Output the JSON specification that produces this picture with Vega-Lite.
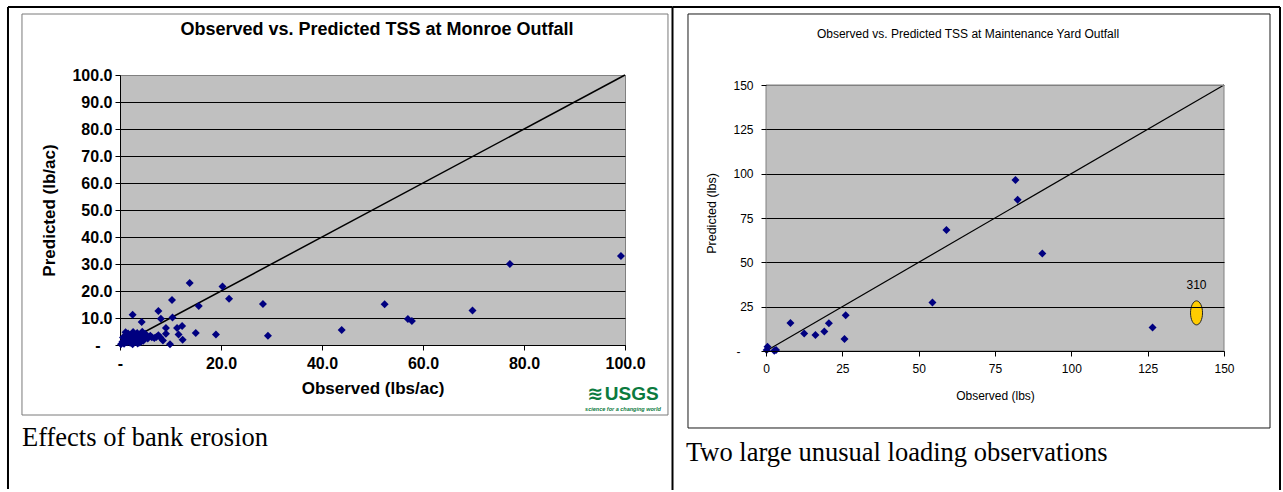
{
  "$schema": "https://vega.github.io/schema/vega-lite/v6.json",
  "background": "white",
  "padding": {"left": 6, "top": 5, "right": 0, "bottom": 0},
  "spacing": -4,
  "config": {
    "font": "Liberation Sans",
    "view": {"stroke": null},
    "axis": {"labelColor": "#000000", "titleColor": "#000000", "tickColor": "#000000", "domainColor": "#000000", "gridOpacity": 1, "labelFlush": false, "labelOverlap": false}
  },
  "datasets": {
    "monroe": [
      {"Observed": 99.2, "Predicted": 33.0}, {"Observed": 77.2, "Predicted": 30.0}, {"Observed": 69.8, "Predicted": 12.8},
      {"Observed": 52.4, "Predicted": 15.1}, {"Observed": 57.0, "Predicted": 9.6}, {"Observed": 57.8, "Predicted": 8.9},
      {"Observed": 43.9, "Predicted": 5.6}, {"Observed": 29.3, "Predicted": 3.4}, {"Observed": 28.3, "Predicted": 15.2},
      {"Observed": 21.6, "Predicted": 17.1}, {"Observed": 20.3, "Predicted": 21.7}, {"Observed": 13.8, "Predicted": 23.0},
      {"Observed": 15.6, "Predicted": 14.4}, {"Observed": 19.0, "Predicted": 3.9}, {"Observed": 15.0, "Predicted": 4.4},
      {"Observed": 10.3, "Predicted": 16.7}, {"Observed": 7.6, "Predicted": 12.6}, {"Observed": 8.1, "Predicted": 9.7},
      {"Observed": 10.4, "Predicted": 10.2}, {"Observed": 2.5, "Predicted": 11.2}, {"Observed": 4.3, "Predicted": 8.5},
      {"Observed": 9.1, "Predicted": 6.3}, {"Observed": 11.3, "Predicted": 6.3}, {"Observed": 12.3, "Predicted": 7.0},
      {"Observed": 11.6, "Predicted": 3.9}, {"Observed": 12.4, "Predicted": 1.9}, {"Observed": 9.9, "Predicted": 0.3},
      {"Observed": 8.5, "Predicted": 1.7}, {"Observed": 9.1, "Predicted": 4.2}, {"Observed": 7.6, "Predicted": 3.6},
      {"Observed": 6.3, "Predicted": 2.9}, {"Observed": 5.2, "Predicted": 3.1},
      {"Observed": 0.2, "Predicted": 0.3}, {"Observed": 0.5, "Predicted": 1.2}, {"Observed": 0.8, "Predicted": 0.5},
      {"Observed": 1.0, "Predicted": 2.2}, {"Observed": 1.2, "Predicted": 3.6}, {"Observed": 1.4, "Predicted": 1.0},
      {"Observed": 1.6, "Predicted": 4.3}, {"Observed": 1.8, "Predicted": 2.8}, {"Observed": 2.0, "Predicted": 0.8},
      {"Observed": 2.2, "Predicted": 1.9}, {"Observed": 2.4, "Predicted": 3.9}, {"Observed": 2.6, "Predicted": 4.8},
      {"Observed": 2.8, "Predicted": 2.4}, {"Observed": 3.0, "Predicted": 1.3}, {"Observed": 3.2, "Predicted": 3.2},
      {"Observed": 3.4, "Predicted": 4.4}, {"Observed": 3.6, "Predicted": 2.0}, {"Observed": 3.8, "Predicted": 0.9},
      {"Observed": 4.0, "Predicted": 3.6}, {"Observed": 4.2, "Predicted": 2.6}, {"Observed": 4.4, "Predicted": 4.9},
      {"Observed": 4.6, "Predicted": 1.6}, {"Observed": 4.8, "Predicted": 3.0}, {"Observed": 5.0, "Predicted": 4.2},
      {"Observed": 5.5, "Predicted": 2.4}, {"Observed": 6.0, "Predicted": 3.4}, {"Observed": 6.8, "Predicted": 2.6},
      {"Observed": 0.6, "Predicted": 2.8}, {"Observed": 1.1, "Predicted": 4.7}, {"Observed": 2.5, "Predicted": 0.3},
      {"Observed": 3.5, "Predicted": 0.6}, {"Observed": 4.1, "Predicted": 1.1}, {"Observed": 7.2, "Predicted": 3.0},
      {"Observed": 8.0, "Predicted": 2.8}
    ],
    "maintenance": [
      {"Observed": 0.5, "Predicted": 2.4}, {"Observed": 0.2, "Predicted": 0.6}, {"Observed": 3.3, "Predicted": 0.6},
      {"Observed": 2.7, "Predicted": 0.2}, {"Observed": 8.0, "Predicted": 15.8}, {"Observed": 12.5, "Predicted": 9.8},
      {"Observed": 16.2, "Predicted": 9.0}, {"Observed": 19.1, "Predicted": 11.0}, {"Observed": 20.6, "Predicted": 15.6},
      {"Observed": 26.1, "Predicted": 20.2}, {"Observed": 25.7, "Predicted": 6.8}, {"Observed": 54.5, "Predicted": 27.3},
      {"Observed": 59.1, "Predicted": 68.2}, {"Observed": 81.7, "Predicted": 96.4}, {"Observed": 82.4, "Predicted": 85.3},
      {"Observed": 90.5, "Predicted": 55.0}, {"Observed": 126.6, "Predicted": 13.3}
    ],
    "maintenance_offscale": [
      {"Observed": "310", "Observed at axis break": 141, "Predicted": 21.5}
    ]
  },
  "hconcat": [
    {
      "width": 505,
      "height": 270,
      "view": {"fill": "#c0c0c0", "stroke": "#808080"},
      "layer": [
        {
          "data": {"values": [{}]},
          "mark": {"type": "rule", "stroke": "#000000", "strokeWidth": 2},
          "encoding": {"x": {"datum": -22.18, "type": "quantitative"}, "y": {"datum": 125.19, "type": "quantitative"}, "y2": {"datum": -53.33}}
        },
        {
          "data": {"values": [{}]},
          "mark": {"type": "rule", "stroke": "#000000", "strokeWidth": 2},
          "encoding": {"x": {"datum": -22.18, "type": "quantitative"}, "x2": {"datum": 109.41}, "y": {"datum": 125.19, "type": "quantitative"}}
        },
        {
          "data": {"values": [{}]},
          "mark": {"type": "rect", "filled": false, "stroke": "#7a7a7a", "strokeWidth": 1},
          "encoding": {"x": {"datum": -19.41, "type": "quantitative"}, "x2": {"datum": 108.51}, "y": {"datum": 122.59, "type": "quantitative"}, "y2": {"datum": -25.93}}
        },
        {
          "data": {"values": [{}]},
          "mark": {"type": "text", "text": "Observed vs. Predicted TSS at Monroe Outfall", "font": "Liberation Sans", "fontWeight": "bold", "fontSize": 18, "align": "center", "baseline": "middle", "color": "#000000"},
          "encoding": {"x": {"datum": 50.89, "type": "quantitative"}, "y": {"datum": 116.67, "type": "quantitative"}}
        },
        {
          "data": {"values": [{}]},
          "mark": {"type": "text", "text": "Effects of bank erosion", "font": "Liberation Serif", "fontSize": 26.5, "align": "left", "baseline": "alphabetic", "color": "#000000"},
          "encoding": {"x": {"datum": -19.41, "type": "quantitative"}, "y": {"datum": -37.41, "type": "quantitative"}}
        },
        {
          "data": {"values": [{}]},
          "mark": {"type": "text", "text": "≋", "font": "DejaVu Sans", "fontWeight": "bold", "fontSize": 19, "align": "right", "baseline": "middle", "color": "#0b7a3e"},
          "encoding": {"x": {"datum": 95.7, "type": "quantitative"}, "y": {"datum": -18.15, "type": "quantitative"}}
        },
        {
          "data": {"values": [{}]},
          "mark": {"type": "text", "text": "USGS", "font": "Liberation Sans", "fontWeight": "bold", "fontSize": 19, "align": "left", "baseline": "middle", "color": "#0b7a3e"},
          "encoding": {"x": {"datum": 96.0, "type": "quantitative"}, "y": {"datum": -18.15, "type": "quantitative"}}
        },
        {
          "data": {"values": [{}]},
          "mark": {"type": "text", "text": "science for a changing world", "font": "Liberation Sans", "fontWeight": "bold", "fontStyle": "italic", "fontSize": 5.5, "align": "center", "baseline": "middle", "color": "#0b7a3e"},
          "encoding": {"x": {"datum": 99.6, "type": "quantitative"}, "y": {"datum": -23.8, "type": "quantitative"}}
        },
        {
          "data": {"values": [{}]},
          "mark": {"type": "rule", "stroke": "#000000", "strokeWidth": 1.5},
          "encoding": {"x": {"datum": 0, "type": "quantitative"}, "y": {"datum": 0, "type": "quantitative"}, "x2": {"datum": 100}, "y2": {"datum": 100}}
        },
        {
          "data": {"name": "monroe"},
          "mark": {"type": "point", "shape": "diamond", "filled": true, "size": 64, "color": "#000080", "opacity": 1},
          "encoding": {
            "x": {
              "field": "Observed", "type": "quantitative",
              "scale": {"domain": [0, 100], "nice": false, "zero": false},
              "axis": {
                "values": [0, 20, 40, 60, 80, 100], "tickCount": 6,
                "labelExpr": "datum.value == 0 ? '-' : format(datum.value, '.1f')",
                "labelOverlap": false,
                "labelFont": "Liberation Sans", "labelFontWeight": "bold", "labelFontSize": 16, "labelPadding": 5,
                "tickSize": 5, "grid": false,
                "title": "Observed (lbs/ac)", "titleFont": "Liberation Sans", "titleFontWeight": "bold", "titleFontSize": 17, "titlePadding": 9
              }
            },
            "y": {
              "field": "Predicted", "type": "quantitative",
              "scale": {"domain": [0, 100], "nice": false, "zero": false},
              "axis": {
                "values": [0, 10, 20, 30, 40, 50, 60, 70, 80, 90, 100], "tickCount": 11,
                "labelExpr": "datum.value == 0 ? '-' : format(datum.value, '.1f')",
                "labelOverlap": false,
                "labelFont": "Liberation Sans", "labelFontWeight": "bold", "labelFontSize": 16,
                "labelPadding": {"condition": {"test": "datum.value == 0", "value": 15}, "value": 3},
                "tickSize": 5, "grid": true,
                "gridColor": {"condition": {"test": "datum.value == 100", "value": "#808080"}, "value": "#000000"},
                "title": "Predicted (lb/ac)", "titleFont": "Liberation Sans", "titleFontWeight": "bold", "titleFontSize": 17, "titlePadding": 13
              }
            }
          }
        }
      ]
    },
    {
      "width": 458,
      "height": 276,
      "view": {"stroke": null},
      "layer": [
        {
          "data": {"values": [{}]},
          "mark": {"type": "rule", "stroke": "#000000", "strokeWidth": 2},
          "encoding": {"x": {"datum": -30.62, "type": "quantitative"}, "y": {"datum": 193.98, "type": "quantitative"}, "y2": {"datum": -78.38}}
        },
        {
          "data": {"values": [{}]},
          "mark": {"type": "rule", "stroke": "#000000", "strokeWidth": 2},
          "encoding": {"x": {"datum": -30.62, "type": "quantitative"}, "x2": {"datum": 168.34}, "y": {"datum": 193.98, "type": "quantitative"}}
        },
        {
          "data": {"values": [{}]},
          "mark": {"type": "rule", "stroke": "#000000", "strokeWidth": 2},
          "encoding": {"x": {"datum": 168.34, "type": "quantitative"}, "y": {"datum": 193.98, "type": "quantitative"}, "y2": {"datum": -78.38}}
        },
        {
          "data": {"values": [{}]},
          "mark": {"type": "rect", "filled": false, "stroke": "#1a1a1a", "strokeWidth": 1},
          "encoding": {"x": {"datum": -25.55, "type": "quantitative"}, "x2": {"datum": 165.07}, "y": {"datum": 190.04, "type": "quantitative"}, "y2": {"datum": -43.42}}
        },
        {
          "data": {"values": [{}]},
          "mark": {"type": "rect", "fill": "#c0c0c0", "stroke": "#808080", "strokeWidth": 1},
          "encoding": {"x": {"datum": 0, "type": "quantitative"}, "x2": {"datum": 150}, "y": {"datum": 0, "type": "quantitative"}, "y2": {"datum": 150}}
        },
        {
          "data": {"values": [{}]},
          "mark": {"type": "text", "text": "Observed vs. Predicted TSS at Maintenance Yard Outfall", "font": "Liberation Sans", "fontSize": 12, "align": "center", "baseline": "middle", "color": "#000000"},
          "encoding": {"x": {"datum": 66.16, "type": "quantitative"}, "y": {"datum": 178.76, "type": "quantitative"}}
        },
        {
          "data": {"values": [{}]},
          "mark": {"type": "text", "text": "Two large unusual loading observations", "font": "Liberation Serif", "fontSize": 26.5, "align": "left", "baseline": "alphabetic", "color": "#000000"},
          "encoding": {"x": {"datum": -26.2, "type": "quantitative"}, "y": {"datum": -62.03, "type": "quantitative"}}
        },
        {
          "data": {"values": [{}]},
          "mark": {"type": "rule", "stroke": "#000000", "strokeWidth": 1.2},
          "encoding": {"x": {"datum": 0, "type": "quantitative"}, "y": {"datum": 0, "type": "quantitative"}, "x2": {"datum": 150}, "y2": {"datum": 150}}
        },
        {
          "data": {"name": "maintenance_offscale"},
          "mark": {"type": "point", "shape": "M0,-1A0.5,1,0,1,1,0,1A0.5,1,0,1,1,0,-1Z", "filled": true, "fill": "#ffcc00", "stroke": "#222222", "strokeWidth": 1, "size": 576, "opacity": 1},
          "encoding": {"x": {"field": "Observed at axis break", "type": "quantitative"}, "y": {"field": "Predicted", "type": "quantitative"}}
        },
        {
          "data": {"name": "maintenance_offscale"},
          "mark": {"type": "text", "font": "Liberation Sans", "fontSize": 12, "dy": -28, "align": "center", "baseline": "middle", "color": "#000000"},
          "encoding": {"x": {"field": "Observed at axis break", "type": "quantitative"}, "y": {"field": "Predicted", "type": "quantitative"}, "text": {"field": "Observed"}}
        },
        {
          "data": {"name": "maintenance"},
          "mark": {"type": "point", "shape": "diamond", "filled": true, "size": 64, "color": "#000080", "opacity": 1},
          "encoding": {
            "x": {
              "field": "Observed", "type": "quantitative",
              "scale": {"domain": [0, 150], "nice": false, "zero": false},
              "axis": {
                "values": [0, 25, 50, 75, 100, 125, 150], "tickCount": 7, "format": "d",
                "labelOverlap": false, "zindex": 1,
                "labelFont": "Liberation Sans", "labelFontSize": 12, "labelPadding": 7,
                "tickSize": 5, "grid": false,
                "title": "Observed (lbs)", "titleFont": "Liberation Sans", "titleFontWeight": "normal", "titleFontSize": 12, "titlePadding": 16
              }
            },
            "y": {
              "field": "Predicted", "type": "quantitative",
              "scale": {"domain": [0, 155.64], "nice": false, "zero": false},
              "axis": {
                "values": [0, 25, 50, 75, 100, 125, 150], "tickCount": 7,
                "labelExpr": "datum.value == 0 ? '-' : format(datum.value, 'd')",
                "labelOverlap": false, "zindex": 1, "domain": false,
                "labelFont": "Liberation Sans", "labelFontSize": 12,
                "labelPadding": {"condition": {"test": "datum.value == 0", "value": 21}, "value": 8},
                "tickSize": 5, "grid": true,
                "gridColor": {"condition": {"test": "datum.value == 150", "value": "#808080"}, "value": "#000000"},
                "title": "Predicted (lbs)", "titleFont": "Liberation Sans", "titleFontWeight": "normal", "titleFontSize": 12.5, "titlePadding": 14
              }
            }
          }
        }
      ]
    }
  ]
}
